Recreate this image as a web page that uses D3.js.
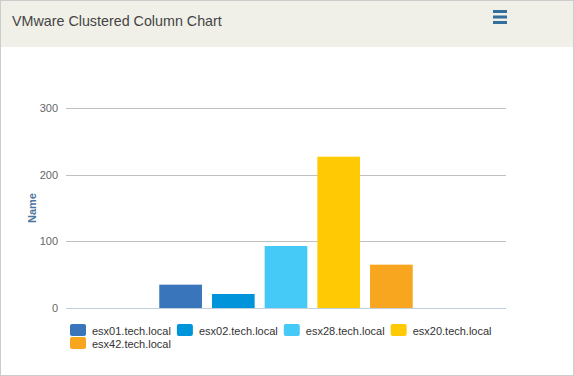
<!DOCTYPE html>
<html>
<head>
<meta charset="utf-8">
<script src="https://cdn.jsdelivr.net/npm/d3@7"></script>
<style>
  html, body { margin: 0; padding: 0; background: #fff; }
  svg { display: block; }
</style>
</head>
<body>
<div id="chart"></div>
<script>
// data
const categories = ["VMware"];
const seriesNames = ["esx01.tech.local", "esx02.tech.local", "esx28.tech.local", "esx20.tech.local", "esx42.tech.local"];
const seriesValues = [35, 21, 93, 227, 65];
const seriesColors = ["#3875bb", "#0095da", "#45c9f6", "#ffca03", "#f8a51f"];
const yTicks = [0, 100, 200, 300];

const W = 574, H = 376;
const margin = {top: 108, right: 68, bottom: 68, left: 66};
const width = W - margin.left - margin.right;
const height = H - margin.top - margin.bottom;

const root = d3.select("#chart").append("svg")
    .attr("width", W)
    .attr("height", H)
    .style("font-family", "'Liberation Sans', Arial, sans-serif");

// panel frame + header
root.append("rect")
    .attr("x", 0.5).attr("y", 0.5)
    .attr("width", W - 1).attr("height", H - 1)
    .attr("fill", "#fff")
    .attr("stroke", "#cccccc");

root.append("rect")
    .attr("x", 1).attr("y", 1)
    .attr("width", W - 2).attr("height", 46)
    .attr("fill", "#f1f0e8");

root.append("text")
    .attr("x", 12)
    .attr("y", 26)
    .style("font-size", "14.3px")
    .style("fill", "#444")
    .text("VMware Clustered Column Chart");

// menu icon
[10, 15.5, 21].forEach(y => {
    root.append("rect")
        .attr("x", 493).attr("y", y)
        .attr("width", 14).attr("height", 3)
        .attr("fill", "#336f9c");
});

const svg = root.append("g")
    .attr("transform", `translate(${margin.left},${margin.top})`);

const y = d3.scaleLinear()
    .domain([0, 300])
    .range([height, 0]);

const x0 = d3.scaleBand()
    .domain(categories)
    .range([0, width])
    .padding(0);

const x1 = d3.scaleBand()
    .domain(seriesNames)
    .range([x0.bandwidth() * 0.2, x0.bandwidth() * 0.8])
    .paddingInner(0.19)
    .paddingOuter(0.1);

// gridlines
svg.append("g")
    .selectAll("line")
    .data(yTicks.filter(t => t > 0))
    .enter()
    .append("line")
    .attr("x1", 0).attr("x2", width)
    .attr("y1", d => Math.round(y(d)) + 0.5)
    .attr("y2", d => Math.round(y(d)) + 0.5)
    .attr("stroke", "#c0c0c0");

// y labels
svg.append("g")
    .selectAll("text")
    .data(yTicks)
    .enter()
    .append("text")
    .attr("x", -8)
    .attr("y", d => y(d) + 4)
    .attr("text-anchor", "end")
    .style("font-size", "11px")
    .style("fill", "#666")
    .text(d => d);

svg.append("text")
    .attr("transform", `translate(${-30},${height / 2}) rotate(-90)`)
    .attr("text-anchor", "middle")
    .style("font-size", "11px")
    .style("font-weight", "bold")
    .style("fill", "#4d759e")
    .text("Name");

// bars
const groups = svg.selectAll("g.cat")
    .data(categories)
    .enter()
    .append("g")
    .attr("class", "cat")
    .attr("transform", d => `translate(${x0(d)},0)`);

groups.selectAll("rect")
    .data(seriesNames.map((s, i) => ({name: s, value: seriesValues[i], color: seriesColors[i]})))
    .enter()
    .append("rect")
    .attr("x", d => x1(d.name))
    .attr("y", d => y(d.value))
    .attr("width", x1.bandwidth())
    .attr("height", d => height - y(d.value))
    .attr("fill", d => d.color);

// x axis baseline
svg.append("line")
    .attr("x1", 0).attr("x2", width)
    .attr("y1", height + 0.5).attr("y2", height + 0.5)
    .attr("stroke", "#c0d0e0");

// legend
const legend = root.append("g");
let lx = 70, ly = 324;
const maxX = 540;
seriesNames.forEach((s, i) => {
    const item = legend.append("g");
    item.append("rect")
        .attr("width", 16).attr("height", 12)
        .attr("rx", 2)
        .attr("fill", seriesColors[i]);
    const t = item.append("text")
        .attr("x", 22)
        .attr("y", 11)
        .style("font-size", "11px")
        .style("fill", "#333")
        .text(s);
    const w = 22 + t.node().getComputedTextLength();
    if (lx + w > maxX) {
        lx = 70;
        ly += 13;
    }
    item.attr("transform", `translate(${lx},${ly})`);
    lx += w + 6;
});
</script>
</body>
</html>
